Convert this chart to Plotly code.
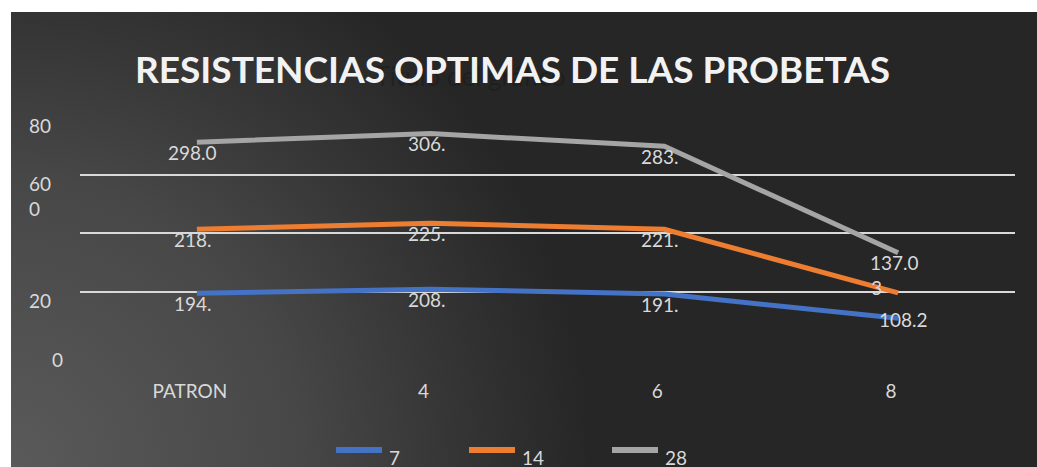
import base64
import plotly.graph_objects as go

# ---------------- data ----------------
categories = ["PATRON", "4", "6", "8"]
series_names = ["7", "14", "28"]
values_7 = [194.3, 208.1, 191.4, 108.2]
values_14 = [218.3, 225.4, 221.5, 87.3]
values_28 = [298.0, 306.5, 283.4, 137.0]
labels_7 = ["194.", "208.", "191.", "108.2"]
labels_14 = ["218.", "225.", "221.", "3"]
labels_28 = ["298.0", "306.", "283.", "137.0"]
y_tick_vals = [0, 200, 400, 600, 800]
y_tick_text = ["0", "20", "", "60<br>0", "80"]
title_text = "RESISTENCIAS OPTIMAS DE LAS PROBETAS"
ghost_title = "Título del gráfico"

# ---------------- style ----------------
PAGE_W, PAGE_H = 1037, 467
W, H = PAGE_W, PAGE_H
L, R, T, B = 80, 1015, 116, 350  # plot area in page pixels
colors = ["#4472C4", "#ED7D31", "#A5A5A5"]
txt = "#d9d9d9"
FONT = "Lato"


def px_x(px):
    return (px - L) / (R - L)


def px_y(py):
    return (B - py) / (B - T)


# stacked line chart: cumulative totals
all_vals = [values_7, values_14, values_28]
all_labels = [labels_7, labels_14, labels_28]
cum = []
run = [0.0] * len(categories)
for vals in all_vals:
    run = [a + b for a, b in zip(run, vals)]
    cum.append(run)

fig = go.Figure()
for name, ys, col in zip(series_names, cum, colors):
    fig.add_trace(go.Scatter(x=categories, y=ys, mode="lines", name=name,
                             line=dict(color=col, width=5), showlegend=False,
                             hoverinfo="skip"))

# background gradient as SVG image
bw, bh = PAGE_W - 11, PAGE_H - 12
svg = f'''<svg xmlns="http://www.w3.org/2000/svg" width="{bw}" height="{bh}" viewBox="0 0 {bw} {bh}" preserveAspectRatio="none">
<defs><radialGradient id="g" gradientUnits="userSpaceOnUse" cx="0" cy="{bh}" r="580">
<stop offset="0" stop-color="#5a5a5a"/><stop offset="0.5" stop-color="#474747"/>
<stop offset="0.75" stop-color="#363636"/><stop offset="1" stop-color="#262626"/>
</radialGradient></defs><rect width="100%" height="100%" fill="url(#g)"/></svg>'''
src = "data:image/svg+xml;base64," + base64.b64encode(svg.encode()).decode()

annotations = []
# ghost title + title
annotations.append(dict(text=ghost_title, xref="paper", yref="paper", x=px_x(470), y=px_y(58),
                        showarrow=False, font=dict(family=FONT, size=26, color="rgba(0,0,0,0.2)")))
annotations.append(dict(text=f"<b>{title_text}</b>", xref="paper", yref="paper", x=px_x(512), y=px_y(68),
                        showarrow=False, xanchor="center", yanchor="middle",
                        font=dict(family=FONT, size=37, color="#f2f2f2")))

# data labels
default_shift = (-4, -10)
overrides = {(1, 3): (-22, 5), (0, 3): (5, -1)}
for si, (ys, labs) in enumerate(zip(cum, all_labels)):
    for ci, (yv, lab) in enumerate(zip(ys, labs)):
        dx, dy = overrides.get((si, ci), default_shift)
        annotations.append(dict(text=lab, x=ci, y=yv, xref="x", yref="y", showarrow=False,
                                xshift=dx, yshift=dy, xanchor="center", yanchor="middle",
                                font=dict(family=FONT, size=19, color=txt)))

# y tick labels (as shown, truncated)
tick_left_px = [50, 27, 27, 27, 27]
for v, t, lx in zip(y_tick_vals, y_tick_text, tick_left_px):
    if not t:
        continue
    nlines = t.count("<br>") + 1
    annotations.append(dict(text=t, x=px_x(lx), xref="paper", y=v, yref="y", showarrow=False,
                            xanchor="left", yanchor="middle", align="left",
                            yshift=-9 - 12 * (nlines - 1),
                            font=dict(family=FONT, size=19, color=txt)))

# white frame strips (top and left) over a dark paper
shapes = [
    dict(type="rect", xref="paper", yref="paper", x0=px_x(0), x1=px_x(PAGE_W), y0=px_y(0), y1=px_y(12),
         fillcolor="white", line=dict(width=0), layer="below"),
    dict(type="rect", xref="paper", yref="paper", x0=px_x(0), x1=px_x(11), y0=px_y(0), y1=px_y(PAGE_H),
         fillcolor="white", line=dict(width=0), layer="below"),
]
# legend (manual)
leg_x = [336, 469, 612]
for name, col, lx in zip(series_names, colors, leg_x):
    shapes.append(dict(type="line", xref="paper", yref="paper", x0=px_x(lx), x1=px_x(lx + 46),
                       y0=px_y(450), y1=px_y(450), line=dict(color=col, width=6)))
    annotations.append(dict(text=name, xref="paper", yref="paper", x=px_x(lx + 51), y=px_y(457),
                            xanchor="left", yanchor="middle", showarrow=False,
                            font=dict(family=FONT, size=19, color=txt)))

fig.update_layout(
    width=W, height=H,
    margin=dict(l=L, r=PAGE_W - R, t=T, b=PAGE_H - B, pad=0),
    paper_bgcolor="#262626", plot_bgcolor="rgba(0,0,0,0)",
    showlegend=False,
    images=[dict(source=src, xref="paper", yref="paper", x=px_x(11), y=px_y(12),
                 sizex=px_x(PAGE_W) - px_x(11), sizey=px_y(12) - px_y(PAGE_H),
                 xanchor="left", yanchor="top", sizing="stretch", layer="below")],
    annotations=annotations, shapes=shapes,
    xaxis=dict(type="category", range=[-0.5, len(categories) - 0.5], showgrid=False,
               zeroline=False, showline=False, ticks="", ticklabelshift=-7,
               ticklabelstandoff=28, tickfont=dict(family=FONT, size=19, color=txt)),
    yaxis=dict(range=[0, 800], tickvals=y_tick_vals, showticklabels=False,
               showgrid=True, gridcolor="#d9d9d9", gridwidth=2, zeroline=False,
               showline=False, ticks=""),
)

fig.write_html("out.html", config={"displayModeBar": False},
               post_script=("document.documentElement.style.overflow='hidden';"
                            "document.documentElement.style.background='#262626';"
                            "document.body.style.margin='0';document.body.style.overflow='hidden';"))
